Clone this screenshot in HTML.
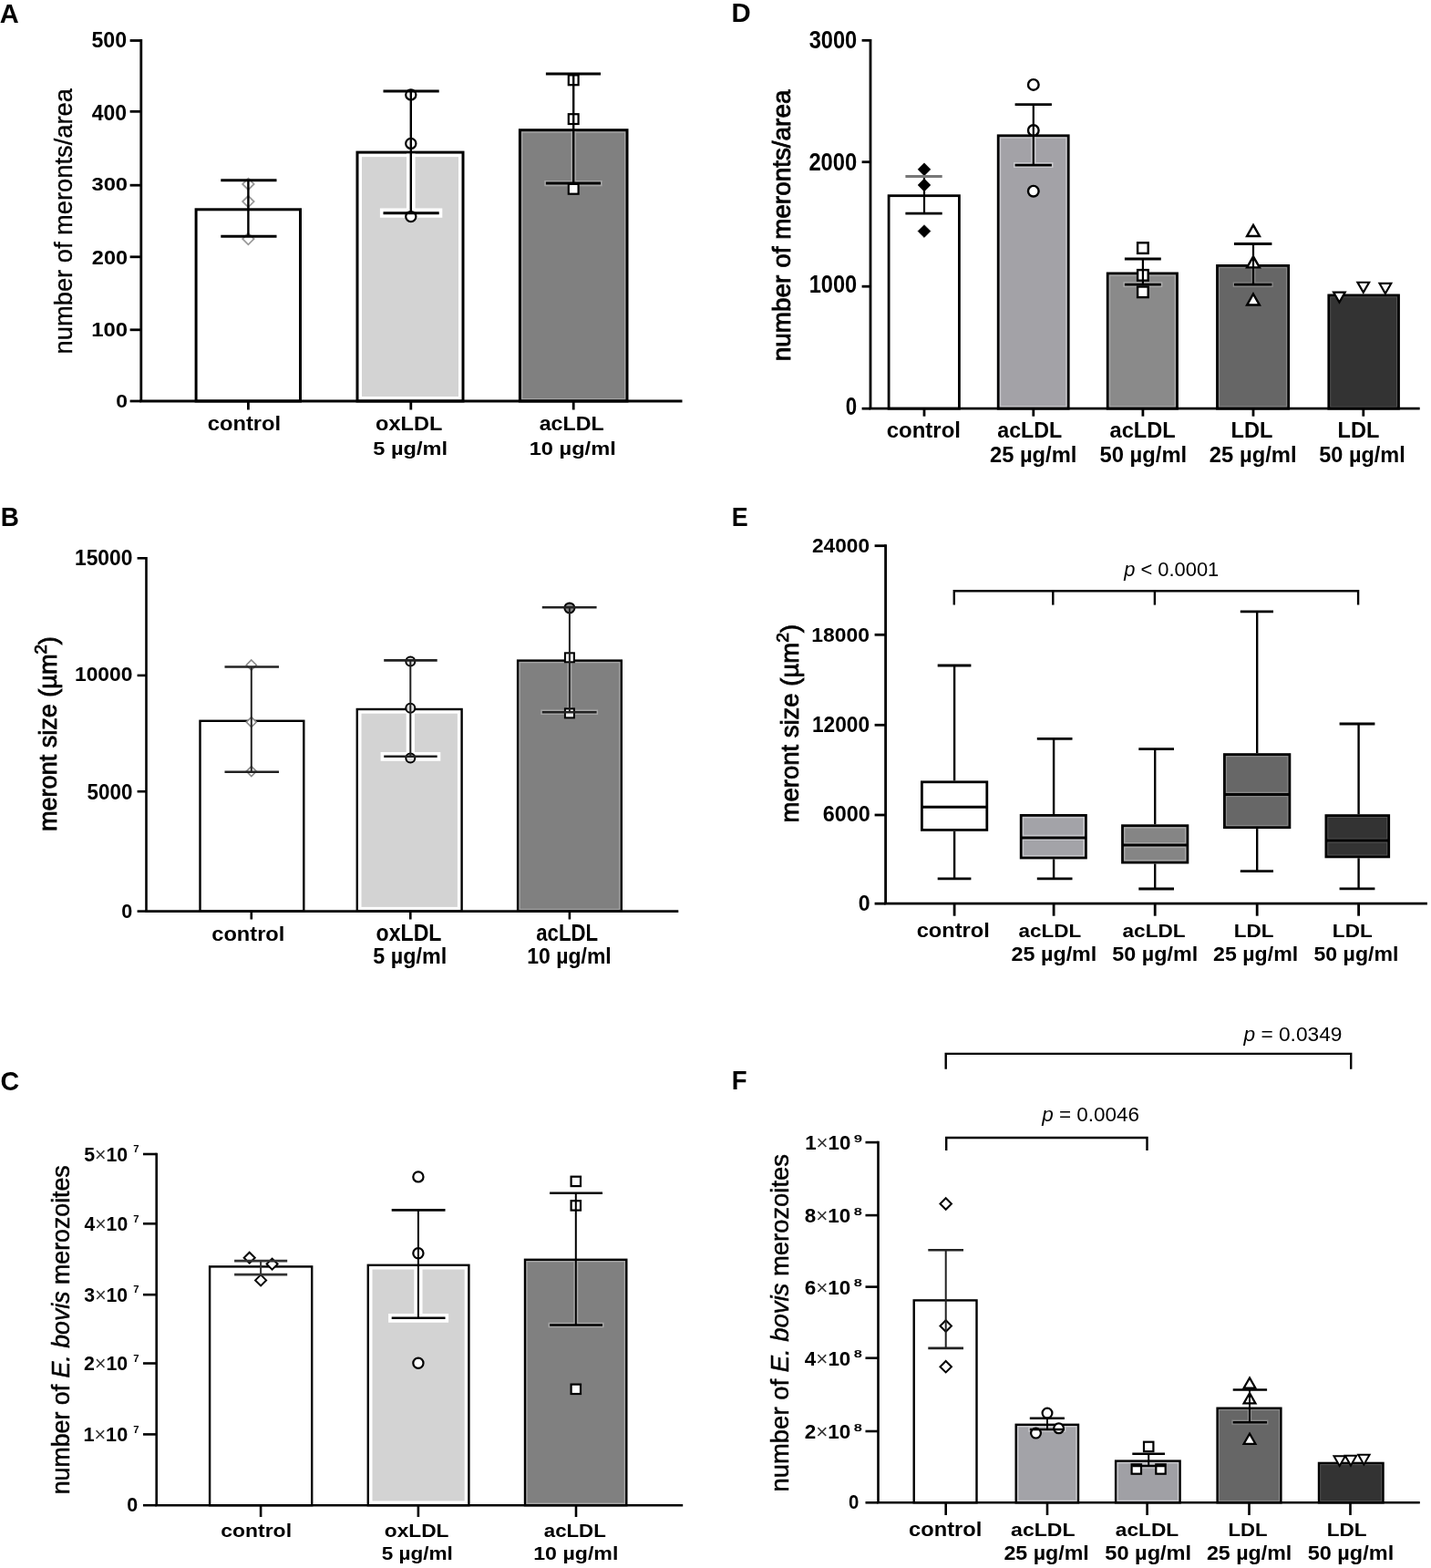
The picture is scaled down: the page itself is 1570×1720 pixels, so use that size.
<!DOCTYPE html>
<html><head><meta charset="utf-8"><title>Figure</title>
<style>html,body{margin:0;padding:0;background:#fff;overflow:hidden}svg{display:block}text{font-family:'Liberation Sans',Arial,sans-serif;fill:#000;font-kerning:none}</style>
</head><body>
<svg width="1570" height="1720" viewBox="0 0 1570 1720">
<rect width="1570" height="1720" fill="#fff"/>
<text x="-0.32" y="24.5" font-size="29.8" font-weight="bold" textLength="20.99" lengthAdjust="spacingAndGlyphs">A</text>
<text x="0.64" y="576.7" font-size="29.36" font-weight="bold" textLength="20.13" lengthAdjust="spacingAndGlyphs">B</text>
<text x="0.53" y="1195.7" font-size="29.5" font-weight="bold" textLength="20.66" lengthAdjust="spacingAndGlyphs">C</text>
<text x="802.54" y="24.1" font-size="29.51" font-weight="bold" textLength="21.2" lengthAdjust="spacingAndGlyphs">D</text>
<text x="802.7" y="576.7" font-size="29.36" font-weight="bold" textLength="17.95" lengthAdjust="spacingAndGlyphs">E</text>
<text x="802.65" y="1194.8" font-size="29.36" font-weight="bold" textLength="16.86" lengthAdjust="spacingAndGlyphs">F</text>
<rect x="215.1" y="229.8" width="114.4" height="210.2" fill="#fff" stroke="#000" stroke-width="3.0"/>
<rect x="392" y="167.1" width="116" height="272.9" fill="#fff" stroke="#000" stroke-width="3.0"/>
<rect x="397" y="172.1" width="106" height="262.9" fill="#d3d3d3"/>
<rect x="570.4" y="142.7" width="117.6" height="297.3" fill="#a5a5a5" stroke="#000" stroke-width="3.0"/>
<rect x="573.4" y="145.7" width="111.6" height="291.3" fill="#808080"/>
<line x1="154.8" y1="43.1" x2="154.8" y2="440" stroke="#000" stroke-width="2.8" stroke-linecap="butt"/>
<line x1="142.6" y1="44.5" x2="154.8" y2="44.5" stroke="#000" stroke-width="2.8" stroke-linecap="butt"/>
<line x1="142.6" y1="122.3" x2="154.8" y2="122.3" stroke="#000" stroke-width="2.8" stroke-linecap="butt"/>
<line x1="142.6" y1="203.2" x2="154.8" y2="203.2" stroke="#000" stroke-width="2.8" stroke-linecap="butt"/>
<line x1="142.6" y1="281.8" x2="154.8" y2="281.8" stroke="#000" stroke-width="2.8" stroke-linecap="butt"/>
<line x1="142.6" y1="361.8" x2="154.8" y2="361.8" stroke="#000" stroke-width="2.8" stroke-linecap="butt"/>
<line x1="142.6" y1="440" x2="154.8" y2="440" stroke="#000" stroke-width="2.8" stroke-linecap="butt"/>
<line x1="153.4" y1="440" x2="748.5" y2="440" stroke="#000" stroke-width="2.8" stroke-linecap="butt"/>
<line x1="272.4" y1="440" x2="272.4" y2="449.5" stroke="#000" stroke-width="2.8" stroke-linecap="butt"/>
<line x1="450.8" y1="440" x2="450.8" y2="449.5" stroke="#000" stroke-width="2.8" stroke-linecap="butt"/>
<line x1="629.2" y1="440" x2="629.2" y2="449.5" stroke="#000" stroke-width="2.8" stroke-linecap="butt"/>
<line x1="450.8" y1="168.6" x2="450.8" y2="233.7" stroke="#fff" stroke-width="9.6" stroke-linecap="butt"/>
<line x1="416.9" y1="233.7" x2="485.3" y2="233.7" stroke="#fff" stroke-width="10.2" stroke-linecap="butt"/>
<line x1="629.2" y1="144.2" x2="629.2" y2="201.1" stroke="#a5a5a5" stroke-width="5.6" stroke-linecap="butt"/>
<line x1="597.3" y1="201.1" x2="660.6" y2="201.1" stroke="#a5a5a5" stroke-width="6.2" stroke-linecap="butt"/>
<polygon points="272.4,195.66 278.64,201.9 272.4,208.14 266.16,201.9" fill="#fff" stroke="#999" stroke-width="1.8"/>
<polygon points="272.4,214.86 278.64,221.1 272.4,227.34 266.16,221.1" fill="#fff" stroke="#999" stroke-width="1.8"/>
<polygon points="272.4,255.86 278.64,262.1 272.4,268.34 266.16,262.1" fill="#fff" stroke="#999" stroke-width="1.8"/>
<circle cx="450.8" cy="103.9" r="5.6" fill="#fff" stroke="#000" stroke-width="2.2"/>
<circle cx="450.8" cy="157.4" r="5.6" fill="#fff" stroke="#000" stroke-width="2.2"/>
<circle cx="450.8" cy="237.6" r="5.6" fill="#fff" stroke="#000" stroke-width="2.2"/>
<rect x="623.8" y="82.4" width="10.8" height="10.8" fill="#fff" stroke="#000" stroke-width="2.2"/>
<rect x="623.8" y="125.2" width="10.8" height="10.8" fill="#fff" stroke="#000" stroke-width="2.2"/>
<rect x="623.8" y="201.9" width="10.8" height="10.8" fill="#fff" stroke="#000" stroke-width="2.2"/>
<text x="100.49" y="52.1" font-size="24.06" font-weight="bold" textLength="38.66" lengthAdjust="spacingAndGlyphs">500</text>
<text x="100.85" y="131.5" font-size="24.49" font-weight="bold" textLength="38.29" lengthAdjust="spacingAndGlyphs">400</text>
<text x="100.46" y="209.4" font-size="20.77" font-weight="bold" textLength="39.62" lengthAdjust="spacingAndGlyphs">300</text>
<text x="100.89" y="289.5" font-size="21.77" font-weight="bold" textLength="39.18" lengthAdjust="spacingAndGlyphs">200</text>
<text x="100.19" y="368.8" font-size="21.63" font-weight="bold" textLength="39.89" lengthAdjust="spacingAndGlyphs">100</text>
<text x="127.29" y="446.7" font-size="20.62" font-weight="bold" textLength="12.75" lengthAdjust="spacingAndGlyphs">0</text>
<text transform="translate(78.6,386.6) rotate(-90)" x="-1.81" y="0" font-size="27.5" font-weight="normal" textLength="291.31" lengthAdjust="spacingAndGlyphs" stroke="#000" stroke-width="0.35">number of meronts/area</text>
<text x="227.77" y="472.4" font-size="22.08" font-weight="bold" textLength="80.41" lengthAdjust="spacingAndGlyphs">control</text>
<text x="412.08" y="472.4" font-size="21.66" font-weight="bold" textLength="73.24" lengthAdjust="spacingAndGlyphs">oxLDL</text>
<text x="409.27" y="498.9" font-size="20.56" font-weight="bold" textLength="81.69" lengthAdjust="spacingAndGlyphs">5 µg/ml</text>
<text x="591.72" y="472.4" font-size="21.66" font-weight="bold" textLength="70.89" lengthAdjust="spacingAndGlyphs">acLDL</text>
<text x="580.71" y="498.9" font-size="20.56" font-weight="bold" textLength="95.06" lengthAdjust="spacingAndGlyphs">10 µg/ml</text>
<rect x="975.1" y="214.7" width="77.3" height="233.5" fill="#fff" stroke="#000" stroke-width="2.8"/>
<rect x="1095.2" y="148.8" width="77" height="299.4" fill="#c8c8cc" stroke="#000" stroke-width="2.8"/>
<rect x="1098.2" y="151.8" width="71" height="293.4" fill="#a3a2a7"/>
<rect x="1215.2" y="299.9" width="76.3" height="148.3" fill="#aaa" stroke="#000" stroke-width="2.8"/>
<rect x="1218.1" y="302.8" width="70.5" height="142.5" fill="#8a8a8a"/>
<rect x="1335.5" y="291.4" width="78.2" height="156.8" fill="#888" stroke="#000" stroke-width="2.8"/>
<rect x="1338.2" y="294.1" width="72.8" height="151.4" fill="#666666"/>
<rect x="1457.8" y="323.9" width="76.7" height="124.3" fill="#555" stroke="#000" stroke-width="2.8"/>
<rect x="1460.2" y="326.3" width="71.9" height="119.5" fill="#333333"/>
<line x1="955" y1="42.9" x2="955" y2="448.2" stroke="#000" stroke-width="2.8" stroke-linecap="butt"/>
<line x1="945.6" y1="44.3" x2="955" y2="44.3" stroke="#000" stroke-width="2.8" stroke-linecap="butt"/>
<line x1="945.6" y1="177.7" x2="955" y2="177.7" stroke="#000" stroke-width="2.8" stroke-linecap="butt"/>
<line x1="945.6" y1="314.2" x2="955" y2="314.2" stroke="#000" stroke-width="2.8" stroke-linecap="butt"/>
<line x1="945.6" y1="448.2" x2="955" y2="448.2" stroke="#000" stroke-width="2.8" stroke-linecap="butt"/>
<line x1="953.6" y1="448.2" x2="1557.7" y2="448.2" stroke="#000" stroke-width="2.8" stroke-linecap="butt"/>
<line x1="1014" y1="448.2" x2="1014" y2="456.7" stroke="#000" stroke-width="2.8" stroke-linecap="butt"/>
<line x1="1133.8" y1="448.2" x2="1133.8" y2="456.7" stroke="#000" stroke-width="2.8" stroke-linecap="butt"/>
<line x1="1253.9" y1="448.2" x2="1253.9" y2="456.7" stroke="#000" stroke-width="2.8" stroke-linecap="butt"/>
<line x1="1375" y1="448.2" x2="1375" y2="456.7" stroke="#000" stroke-width="2.8" stroke-linecap="butt"/>
<line x1="1495.8" y1="448.2" x2="1495.8" y2="456.7" stroke="#000" stroke-width="2.8" stroke-linecap="butt"/>
<line x1="1133.8" y1="150.4" x2="1133.8" y2="181.1" stroke="#c8c8cc" stroke-width="5.4" stroke-linecap="butt"/>
<line x1="1112" y1="181.1" x2="1155.5" y2="181.1" stroke="#c8c8cc" stroke-width="6.0" stroke-linecap="butt"/>
<line x1="1253.9" y1="301.5" x2="1253.9" y2="312.2" stroke="#aaa" stroke-width="5.2" stroke-linecap="butt"/>
<line x1="1232.4" y1="312.2" x2="1275.3" y2="312.2" stroke="#aaa" stroke-width="5.8" stroke-linecap="butt"/>
<line x1="1375" y1="293" x2="1375" y2="312.2" stroke="#888" stroke-width="4.800000000000001" stroke-linecap="butt"/>
<line x1="1352.7" y1="312.2" x2="1396.7" y2="312.2" stroke="#888" stroke-width="5.4" stroke-linecap="butt"/>
<polygon points="1014,178.84 1020.96,185.8 1014,192.76 1007.04,185.8" fill="#000" stroke="#000" stroke-width="0.5"/>
<polygon points="1014,196.04 1020.96,203 1014,209.96 1007.04,203" fill="#000" stroke="#000" stroke-width="0.5"/>
<polygon points="1014,246.64 1020.96,253.6 1014,260.56 1007.04,253.6" fill="#000" stroke="#000" stroke-width="0.5"/>
<circle cx="1133.8" cy="92.9" r="5.8" fill="#fff" stroke="#000" stroke-width="2.4"/>
<circle cx="1133.8" cy="143" r="5.8" fill="#fff" stroke="#000" stroke-width="2.4"/>
<circle cx="1133.8" cy="209.7" r="5.8" fill="#fff" stroke="#000" stroke-width="2.4"/>
<rect x="1248.1" y="266.3" width="11.6" height="11.6" fill="#fff" stroke="#000" stroke-width="2.4"/>
<rect x="1248.1" y="296.1" width="11.6" height="11.6" fill="#fff" stroke="#000" stroke-width="2.4"/>
<rect x="1248.1" y="314.5" width="11.6" height="11.6" fill="#fff" stroke="#000" stroke-width="2.4"/>
<polygon points="1375,246.9 1381.9,258.98 1368.1,258.98" fill="#fff" stroke="#000" stroke-width="2.4"/>
<polygon points="1375,281.3 1381.9,293.38 1368.1,293.38" fill="#fff" stroke="#000" stroke-width="2.4"/>
<polygon points="1375,322.5 1381.9,334.57 1368.1,334.57" fill="#fff" stroke="#000" stroke-width="2.4"/>
<polygon points="1469.4,331.62 1475.73,320.56 1463.08,320.56" fill="#fff" stroke="#000" stroke-width="2.2"/>
<polygon points="1495.8,320.82 1502.12,309.76 1489.47,309.76" fill="#fff" stroke="#000" stroke-width="2.2"/>
<polygon points="1519.9,322.02 1526.23,310.96 1513.58,310.96" fill="#fff" stroke="#000" stroke-width="2.2"/>
<text x="887.66" y="52.8" font-size="27.07" font-weight="bold" textLength="52.61" lengthAdjust="spacingAndGlyphs">3000</text>
<text x="887.38" y="186.7" font-size="27.78" font-weight="bold" textLength="52.9" lengthAdjust="spacingAndGlyphs">2000</text>
<text x="887.71" y="321.2" font-size="27.07" font-weight="bold" textLength="52.56" lengthAdjust="spacingAndGlyphs">1000</text>
<text x="927.82" y="454.6" font-size="27.07" font-weight="bold" textLength="12.4" lengthAdjust="spacingAndGlyphs">0</text>
<text transform="translate(866.7,394.3) rotate(-90)" x="-1.85" y="0" font-size="28.5" font-weight="normal" textLength="297.55" lengthAdjust="spacingAndGlyphs" stroke="#000" stroke-width="0.9">number of meronts/area</text>
<text x="972.66" y="479.8" font-size="23.87" font-weight="bold" textLength="81.34" lengthAdjust="spacingAndGlyphs">control</text>
<text x="1094.22" y="479.6" font-size="23.11" font-weight="bold" textLength="71" lengthAdjust="spacingAndGlyphs">acLDL</text>
<text x="1217.61" y="479.6" font-size="23.11" font-weight="bold" textLength="72.12" lengthAdjust="spacingAndGlyphs">acLDL</text>
<text x="1350.62" y="479.6" font-size="23.11" font-weight="bold" textLength="45.8" lengthAdjust="spacingAndGlyphs">LDL</text>
<text x="1467.52" y="479.6" font-size="23.11" font-weight="bold" textLength="45.8" lengthAdjust="spacingAndGlyphs">LDL</text>
<text x="1085.98" y="506.8" font-size="23.05" font-weight="bold" textLength="95.4" lengthAdjust="spacingAndGlyphs">25 µg/ml</text>
<text x="1206.57" y="506.8" font-size="23.05" font-weight="bold" textLength="95.61" lengthAdjust="spacingAndGlyphs">50 µg/ml</text>
<text x="1326.88" y="506.8" font-size="23.05" font-weight="bold" textLength="95.71" lengthAdjust="spacingAndGlyphs">25 µg/ml</text>
<text x="1447.28" y="506.8" font-size="23.05" font-weight="bold" textLength="94.49" lengthAdjust="spacingAndGlyphs">50 µg/ml</text>
<rect x="219.5" y="790.8" width="113.8" height="208.8" fill="#fff" stroke="#000" stroke-width="2.4"/>
<rect x="391.8" y="778" width="114.8" height="221.6" fill="#fff" stroke="#000" stroke-width="2.4"/>
<rect x="396.5" y="782.7" width="105.4" height="212.2" fill="#d3d3d3"/>
<rect x="568.1" y="724.6" width="113.7" height="275" fill="#a5a5a5" stroke="#000" stroke-width="2.4"/>
<rect x="570.8" y="727.3" width="108.3" height="269.6" fill="#808080"/>
<line x1="160.5" y1="611" x2="160.5" y2="999.6" stroke="#000" stroke-width="2.6" stroke-linecap="butt"/>
<line x1="150.6" y1="612.3" x2="160.5" y2="612.3" stroke="#000" stroke-width="2.6" stroke-linecap="butt"/>
<line x1="150.6" y1="740.9" x2="160.5" y2="740.9" stroke="#000" stroke-width="2.6" stroke-linecap="butt"/>
<line x1="150.6" y1="868.2" x2="160.5" y2="868.2" stroke="#000" stroke-width="2.6" stroke-linecap="butt"/>
<line x1="150.6" y1="999.6" x2="160.5" y2="999.6" stroke="#000" stroke-width="2.6" stroke-linecap="butt"/>
<line x1="159.2" y1="999.6" x2="744.3" y2="999.6" stroke="#000" stroke-width="2.6" stroke-linecap="butt"/>
<line x1="275.8" y1="999.6" x2="275.8" y2="1008.5" stroke="#000" stroke-width="2.6" stroke-linecap="butt"/>
<line x1="450.3" y1="999.6" x2="450.3" y2="1008.5" stroke="#000" stroke-width="2.6" stroke-linecap="butt"/>
<line x1="624.9" y1="999.6" x2="624.9" y2="1008.5" stroke="#000" stroke-width="2.6" stroke-linecap="butt"/>
<line x1="450.3" y1="779.8" x2="450.3" y2="829.8" stroke="#fff" stroke-width="9.2" stroke-linecap="butt"/>
<line x1="417.6" y1="829.8" x2="483.3" y2="829.8" stroke="#fff" stroke-width="9.8" stroke-linecap="butt"/>
<line x1="624.9" y1="726.4" x2="624.9" y2="781.3" stroke="#a5a5a5" stroke-width="5.0" stroke-linecap="butt"/>
<line x1="593.3" y1="781.3" x2="656.1" y2="781.3" stroke="#a5a5a5" stroke-width="5.6" stroke-linecap="butt"/>
<polygon points="275.8,723.98 281.32,729.5 275.8,735.02 270.28,729.5" fill="#fff" stroke="#888" stroke-width="1.6"/>
<polygon points="275.8,786.58 281.32,792.1 275.8,797.62 270.28,792.1" fill="#fff" stroke="#888" stroke-width="1.6"/>
<polygon points="275.8,840.58 281.32,846.1 275.8,851.62 270.28,846.1" fill="#fff" stroke="#888" stroke-width="1.6"/>
<circle cx="450.3" cy="725.4" r="5" fill="#ddd" stroke="#000" stroke-width="2.0"/>
<circle cx="450.3" cy="776.8" r="5" fill="#ddd" stroke="#000" stroke-width="2.0"/>
<circle cx="450.3" cy="831.4" r="5" fill="#ddd" stroke="#000" stroke-width="2.0"/>
<circle cx="624.9" cy="666.9" r="5.5" fill="#888" stroke="#000" stroke-width="2.0"/>
<rect x="619.9" y="716.3" width="10" height="10" fill="#eee" stroke="#000" stroke-width="2.0"/>
<rect x="619.9" y="777.4" width="10" height="10" fill="#eee" stroke="#000" stroke-width="2.0"/>
<text x="81.96" y="619.6" font-size="23.63" font-weight="bold" textLength="63.47" lengthAdjust="spacingAndGlyphs">15000</text>
<text x="81.96" y="747.3" font-size="22.34" font-weight="bold" textLength="63.47" lengthAdjust="spacingAndGlyphs">10000</text>
<text x="95.61" y="877" font-size="24.35" font-weight="bold" textLength="49.81" lengthAdjust="spacingAndGlyphs">5000</text>
<text x="133.34" y="1006.5" font-size="22.91" font-weight="bold" textLength="12.04" lengthAdjust="spacingAndGlyphs">0</text>
<text transform="translate(62.1,910.2) rotate(-90)" x="-1.76" y="0" font-size="27.5" font-weight="normal" textLength="213.8" lengthAdjust="spacingAndGlyphs" stroke="#000" stroke-width="0.8">meront size (µm<tspan font-size="19" dy="-11">2</tspan><tspan dy="11">)</tspan></text>
<text x="232.28" y="1031.9" font-size="21.8" font-weight="bold" textLength="80.1" lengthAdjust="spacingAndGlyphs">control</text>
<text x="412.6" y="1032.1" font-size="24.86" font-weight="bold" textLength="71.81" lengthAdjust="spacingAndGlyphs">oxLDL</text>
<text x="409.28" y="1057.2" font-size="23.18" font-weight="bold" textLength="80.87" lengthAdjust="spacingAndGlyphs">5 µg/ml</text>
<text x="588.25" y="1032.1" font-size="24.86" font-weight="bold" textLength="67.83" lengthAdjust="spacingAndGlyphs">acLDL</text>
<text x="578.25" y="1057.2" font-size="23.18" font-weight="bold" textLength="92.48" lengthAdjust="spacingAndGlyphs">10 µg/ml</text>
<line x1="971.6" y1="597.3" x2="971.6" y2="991.2" stroke="#000" stroke-width="2.8" stroke-linecap="butt"/>
<line x1="959.6" y1="598.7" x2="971.6" y2="598.7" stroke="#000" stroke-width="2.8" stroke-linecap="butt"/>
<line x1="959.6" y1="696.3" x2="971.6" y2="696.3" stroke="#000" stroke-width="2.8" stroke-linecap="butt"/>
<line x1="959.6" y1="795.3" x2="971.6" y2="795.3" stroke="#000" stroke-width="2.8" stroke-linecap="butt"/>
<line x1="959.6" y1="894" x2="971.6" y2="894" stroke="#000" stroke-width="2.8" stroke-linecap="butt"/>
<line x1="959.6" y1="991.2" x2="971.6" y2="991.2" stroke="#000" stroke-width="2.8" stroke-linecap="butt"/>
<line x1="970.2" y1="991.2" x2="1565.9" y2="991.2" stroke="#000" stroke-width="2.8" stroke-linecap="butt"/>
<line x1="1047.1" y1="991.2" x2="1047.1" y2="1004.7" stroke="#000" stroke-width="2.8" stroke-linecap="butt"/>
<line x1="1156.1" y1="991.2" x2="1156.1" y2="1004.7" stroke="#000" stroke-width="2.8" stroke-linecap="butt"/>
<line x1="1267.2" y1="991.2" x2="1267.2" y2="1004.7" stroke="#000" stroke-width="2.8" stroke-linecap="butt"/>
<line x1="1379.2" y1="991.2" x2="1379.2" y2="1004.7" stroke="#000" stroke-width="2.8" stroke-linecap="butt"/>
<line x1="1490.6" y1="991.2" x2="1490.6" y2="1004.7" stroke="#000" stroke-width="2.8" stroke-linecap="butt"/>
<line x1="1047.1" y1="730" x2="1047.1" y2="856.4" stroke="#000" stroke-width="2.4" stroke-linecap="butt"/>
<line x1="1047.1" y1="911.8" x2="1047.1" y2="963.8" stroke="#000" stroke-width="2.4" stroke-linecap="butt"/>
<line x1="1028.7" y1="730" x2="1065.4" y2="730" stroke="#000" stroke-width="2.8" stroke-linecap="butt"/>
<line x1="1028.7" y1="963.8" x2="1065.4" y2="963.8" stroke="#000" stroke-width="2.8" stroke-linecap="butt"/>
<rect x="1011.4" y="857.8" width="71.4" height="52.6" fill="#fff" stroke="#000" stroke-width="2.8"/>
<line x1="1011" y1="885.3" x2="1083.2" y2="885.3" stroke="#000" stroke-width="3.0" stroke-linecap="butt"/>
<line x1="1156.1" y1="810.3" x2="1156.1" y2="893" stroke="#000" stroke-width="2.4" stroke-linecap="butt"/>
<line x1="1156.1" y1="942.4" x2="1156.1" y2="963.8" stroke="#000" stroke-width="2.4" stroke-linecap="butt"/>
<line x1="1137.8" y1="810.3" x2="1176.5" y2="810.3" stroke="#000" stroke-width="2.8" stroke-linecap="butt"/>
<line x1="1137.8" y1="963.8" x2="1176.5" y2="963.8" stroke="#000" stroke-width="2.8" stroke-linecap="butt"/>
<rect x="1120.2" y="894.4" width="71.2" height="46.6" fill="#c8c8cc" stroke="#000" stroke-width="2.8"/>
<rect x="1123.2" y="897.4" width="65.2" height="18.4" fill="#a3a3a8"/>
<rect x="1123.2" y="922" width="65.2" height="16" fill="#a3a3a8"/>
<line x1="1119.8" y1="918.9" x2="1191.8" y2="918.9" stroke="#000" stroke-width="3.0" stroke-linecap="butt"/>
<line x1="1267.2" y1="821.7" x2="1267.2" y2="904.3" stroke="#000" stroke-width="2.4" stroke-linecap="butt"/>
<line x1="1267.2" y1="947.5" x2="1267.2" y2="975" stroke="#000" stroke-width="2.4" stroke-linecap="butt"/>
<line x1="1249.3" y1="821.7" x2="1288" y2="821.7" stroke="#000" stroke-width="2.8" stroke-linecap="butt"/>
<line x1="1249.3" y1="975" x2="1288" y2="975" stroke="#000" stroke-width="2.8" stroke-linecap="butt"/>
<rect x="1231.5" y="905.7" width="71.4" height="40.4" fill="#aaa" stroke="#000" stroke-width="2.8"/>
<rect x="1234.4" y="908.6" width="65.6" height="15.5" fill="#858585"/>
<rect x="1234.4" y="930.1" width="65.6" height="13.1" fill="#858585"/>
<line x1="1231.1" y1="927.1" x2="1303.3" y2="927.1" stroke="#000" stroke-width="3.0" stroke-linecap="butt"/>
<line x1="1379.2" y1="670.9" x2="1379.2" y2="826.2" stroke="#000" stroke-width="2.4" stroke-linecap="butt"/>
<line x1="1379.2" y1="909.1" x2="1379.2" y2="955.6" stroke="#000" stroke-width="2.4" stroke-linecap="butt"/>
<line x1="1360.8" y1="670.9" x2="1397" y2="670.9" stroke="#000" stroke-width="2.8" stroke-linecap="butt"/>
<line x1="1360.8" y1="955.6" x2="1397" y2="955.6" stroke="#000" stroke-width="2.8" stroke-linecap="butt"/>
<rect x="1343.4" y="827.6" width="71.5" height="80.1" fill="#888" stroke="#000" stroke-width="2.8"/>
<rect x="1346.1" y="830.3" width="66.1" height="38.3" fill="#676767"/>
<rect x="1346.1" y="874.2" width="66.1" height="30.8" fill="#676767"/>
<line x1="1343" y1="871.4" x2="1415.3" y2="871.4" stroke="#000" stroke-width="3.0" stroke-linecap="butt"/>
<line x1="1490.6" y1="794" x2="1490.6" y2="893.2" stroke="#000" stroke-width="2.4" stroke-linecap="butt"/>
<line x1="1490.6" y1="941.3" x2="1490.6" y2="974.8" stroke="#000" stroke-width="2.4" stroke-linecap="butt"/>
<line x1="1469.6" y1="794" x2="1508.4" y2="794" stroke="#000" stroke-width="2.8" stroke-linecap="butt"/>
<line x1="1469.6" y1="974.8" x2="1508.4" y2="974.8" stroke="#000" stroke-width="2.8" stroke-linecap="butt"/>
<rect x="1454.9" y="894.6" width="68.8" height="45.3" fill="#555" stroke="#000" stroke-width="2.8"/>
<rect x="1457.3" y="897" width="64" height="22.6" fill="#333333"/>
<rect x="1457.3" y="924.6" width="64" height="12.9" fill="#333333"/>
<line x1="1454.5" y1="922.1" x2="1524.1" y2="922.1" stroke="#000" stroke-width="3.0" stroke-linecap="butt"/>
<polyline points="1046.8,663.6 1046.8,648.3 1490.1,648.3 1490.1,663.6" fill="none" stroke="#000" stroke-width="2.4" stroke-linejoin="miter"/>
<line x1="1155.3" y1="648.3" x2="1155.3" y2="663.6" stroke="#000" stroke-width="2.4" stroke-linecap="butt"/>
<line x1="1266.9" y1="648.3" x2="1266.9" y2="663.6" stroke="#000" stroke-width="2.4" stroke-linecap="butt"/>
<text x="1233.19" y="632.1" font-size="21.34" font-weight="normal" textLength="104.08" lengthAdjust="spacingAndGlyphs" fill="#1a1a1a"><tspan font-style="italic">p</tspan> &lt; 0.0001</text>
<text x="891.01" y="605.7" font-size="21.91" font-weight="bold" textLength="63.02" lengthAdjust="spacingAndGlyphs">24000</text>
<text x="890.36" y="704" font-size="22.91" font-weight="bold" textLength="63.68" lengthAdjust="spacingAndGlyphs">18000</text>
<text x="890.97" y="802.9" font-size="23.77" font-weight="bold" textLength="63.06" lengthAdjust="spacingAndGlyphs">12000</text>
<text x="902.64" y="900.6" font-size="23.92" font-weight="bold" textLength="52.02" lengthAdjust="spacingAndGlyphs">6000</text>
<text x="941.79" y="998.6" font-size="23.77" font-weight="bold" textLength="12.86" lengthAdjust="spacingAndGlyphs">0</text>
<text transform="translate(875.7,900.6) rotate(-90)" x="-1.79" y="0" font-size="27" font-weight="normal" textLength="217.46" lengthAdjust="spacingAndGlyphs" stroke="#000" stroke-width="0.8">meront size (µm<tspan font-size="19" dy="-11">2</tspan><tspan dy="11">)</tspan></text>
<text x="1005.68" y="1027.8" font-size="21.53" font-weight="bold" textLength="80.2" lengthAdjust="spacingAndGlyphs">control</text>
<text x="1117.44" y="1027.9" font-size="20.49" font-weight="bold" textLength="68.75" lengthAdjust="spacingAndGlyphs">acLDL</text>
<text x="1231.54" y="1027.9" font-size="20.49" font-weight="bold" textLength="69.06" lengthAdjust="spacingAndGlyphs">acLDL</text>
<text x="1353.8" y="1027.9" font-size="20.49" font-weight="bold" textLength="43.7" lengthAdjust="spacingAndGlyphs">LDL</text>
<text x="1461.89" y="1027.9" font-size="20.49" font-weight="bold" textLength="43.8" lengthAdjust="spacingAndGlyphs">LDL</text>
<text x="1109.59" y="1054.2" font-size="21.53" font-weight="bold" textLength="93.76" lengthAdjust="spacingAndGlyphs">25 µg/ml</text>
<text x="1220.38" y="1054.2" font-size="21.53" font-weight="bold" textLength="93.87" lengthAdjust="spacingAndGlyphs">50 µg/ml</text>
<text x="1331.1" y="1054.2" font-size="21.53" font-weight="bold" textLength="93.04" lengthAdjust="spacingAndGlyphs">25 µg/ml</text>
<text x="1441.49" y="1054.2" font-size="21.53" font-weight="bold" textLength="92.95" lengthAdjust="spacingAndGlyphs">50 µg/ml</text>
<rect x="230.1" y="1389.4" width="112.1" height="261.8" fill="#fff" stroke="#000" stroke-width="2.4"/>
<rect x="403.8" y="1387.8" width="110.6" height="263.4" fill="#fff" stroke="#000" stroke-width="2.4"/>
<rect x="408.5" y="1392.5" width="101.2" height="254" fill="#d3d3d3"/>
<rect x="576" y="1381.8" width="111.3" height="269.4" fill="#a5a5a5" stroke="#000" stroke-width="2.4"/>
<rect x="578.7" y="1384.5" width="105.9" height="264" fill="#808080"/>
<line x1="171.7" y1="1264.7" x2="171.7" y2="1651.2" stroke="#000" stroke-width="2.6" stroke-linecap="butt"/>
<line x1="157" y1="1266" x2="171.7" y2="1266" stroke="#000" stroke-width="2.6" stroke-linecap="butt"/>
<line x1="157" y1="1342.3" x2="171.7" y2="1342.3" stroke="#000" stroke-width="2.6" stroke-linecap="butt"/>
<line x1="157" y1="1420.2" x2="171.7" y2="1420.2" stroke="#000" stroke-width="2.6" stroke-linecap="butt"/>
<line x1="157" y1="1495.5" x2="171.7" y2="1495.5" stroke="#000" stroke-width="2.6" stroke-linecap="butt"/>
<line x1="157" y1="1573.4" x2="171.7" y2="1573.4" stroke="#000" stroke-width="2.6" stroke-linecap="butt"/>
<line x1="157" y1="1651.2" x2="171.7" y2="1651.2" stroke="#000" stroke-width="2.6" stroke-linecap="butt"/>
<line x1="170.4" y1="1651.2" x2="749.2" y2="1651.2" stroke="#000" stroke-width="2.6" stroke-linecap="butt"/>
<line x1="286.1" y1="1651.2" x2="286.1" y2="1664" stroke="#000" stroke-width="2.6" stroke-linecap="butt"/>
<line x1="458.9" y1="1651.2" x2="458.9" y2="1664" stroke="#000" stroke-width="2.6" stroke-linecap="butt"/>
<line x1="632" y1="1651.2" x2="632" y2="1664" stroke="#000" stroke-width="2.6" stroke-linecap="butt"/>
<line x1="458.9" y1="1389.6" x2="458.9" y2="1445.8" stroke="#fff" stroke-width="9.2" stroke-linecap="butt"/>
<line x1="426.1" y1="1445.8" x2="492.1" y2="1445.8" stroke="#fff" stroke-width="9.8" stroke-linecap="butt"/>
<line x1="631.8" y1="1383.6" x2="631.8" y2="1453.5" stroke="#a5a5a5" stroke-width="5.0" stroke-linecap="butt"/>
<line x1="601.6" y1="1453.5" x2="662.5" y2="1453.5" stroke="#a5a5a5" stroke-width="5.6" stroke-linecap="butt"/>
<polygon points="273.7,1373.7 279.7,1379.7 273.7,1385.7 267.7,1379.7" fill="#fff" stroke="#000" stroke-width="2.0"/>
<polygon points="298.6,1380.6 304.6,1386.6 298.6,1392.6 292.6,1386.6" fill="#fff" stroke="#000" stroke-width="2.0"/>
<polygon points="286.1,1398.4 292.1,1404.4 286.1,1410.4 280.1,1404.4" fill="#fff" stroke="#000" stroke-width="2.0"/>
<circle cx="458.9" cy="1290.9" r="5.6" fill="#fff" stroke="#000" stroke-width="2.2"/>
<circle cx="458.9" cy="1374.8" r="5.6" fill="#fff" stroke="#000" stroke-width="2.2"/>
<circle cx="458.9" cy="1495.2" r="5.6" fill="#fff" stroke="#000" stroke-width="2.2"/>
<rect x="626.6" y="1290.7" width="10.4" height="10.4" fill="#fff" stroke="#000" stroke-width="2.2"/>
<rect x="626.6" y="1317.2" width="10.4" height="10.4" fill="#fff" stroke="#000" stroke-width="2.2"/>
<rect x="626.6" y="1518.6" width="10.4" height="10.4" fill="#fff" stroke="#000" stroke-width="2.2"/>
<text x="92.14" y="1273.6" font-size="22.63" font-weight="bold" textLength="48.03" lengthAdjust="spacingAndGlyphs">5<tspan font-weight="normal" fill="#333">×</tspan>10</text>
<text x="146.21" y="1264.2" font-size="10.47" font-weight="bold" textLength="6.28" lengthAdjust="spacingAndGlyphs" fill="#444">7</text>
<text x="92.48" y="1349.9" font-size="22.63" font-weight="bold" textLength="47.69" lengthAdjust="spacingAndGlyphs">4<tspan font-weight="normal" fill="#333">×</tspan>10</text>
<text x="146.21" y="1340.5" font-size="10.47" font-weight="bold" textLength="6.28" lengthAdjust="spacingAndGlyphs" fill="#444">7</text>
<text x="92.31" y="1427.8" font-size="22.63" font-weight="bold" textLength="47.86" lengthAdjust="spacingAndGlyphs">3<tspan font-weight="normal" fill="#333">×</tspan>10</text>
<text x="146.21" y="1418.4" font-size="10.47" font-weight="bold" textLength="6.28" lengthAdjust="spacingAndGlyphs" fill="#444">7</text>
<text x="92.06" y="1503.1" font-size="22.63" font-weight="bold" textLength="48.12" lengthAdjust="spacingAndGlyphs">2<tspan font-weight="normal" fill="#333">×</tspan>10</text>
<text x="146.21" y="1493.7" font-size="10.47" font-weight="bold" textLength="6.28" lengthAdjust="spacingAndGlyphs" fill="#444">7</text>
<text x="91.44" y="1581" font-size="22.63" font-weight="bold" textLength="48.75" lengthAdjust="spacingAndGlyphs">1<tspan font-weight="normal" fill="#333">×</tspan>10</text>
<text x="146.21" y="1571.6" font-size="10.47" font-weight="bold" textLength="6.28" lengthAdjust="spacingAndGlyphs" fill="#444">7</text>
<text x="139.25" y="1657.5" font-size="21.77" font-weight="bold" textLength="11.93" lengthAdjust="spacingAndGlyphs">0</text>
<text transform="translate(76.4,1637.5) rotate(-90)" x="-1.78" y="0" font-size="27" font-weight="normal" textLength="361.04" lengthAdjust="spacingAndGlyphs" stroke="#000" stroke-width="0.5">number of <tspan font-style="italic">E. bovis</tspan> merozoites</text>
<text x="242.3" y="1686.4" font-size="21.11" font-weight="bold" textLength="77.72" lengthAdjust="spacingAndGlyphs">control</text>
<text x="421.81" y="1686.4" font-size="20.93" font-weight="bold" textLength="70.69" lengthAdjust="spacingAndGlyphs">oxLDL</text>
<text x="418.71" y="1710.8" font-size="20.29" font-weight="bold" textLength="78.19" lengthAdjust="spacingAndGlyphs">5 µg/ml</text>
<text x="596.75" y="1686.4" font-size="20.93" font-weight="bold" textLength="68.04" lengthAdjust="spacingAndGlyphs">acLDL</text>
<text x="585.24" y="1710.8" font-size="20.29" font-weight="bold" textLength="93.1" lengthAdjust="spacingAndGlyphs">10 µg/ml</text>
<rect x="1002.7" y="1426.4" width="68.8" height="221.9" fill="#fff" stroke="#000" stroke-width="2.4"/>
<rect x="1114.7" y="1562.8" width="68.3" height="85.5" fill="#c8c8cc" stroke="#000" stroke-width="2.4"/>
<rect x="1117.5" y="1565.6" width="62.7" height="79.9" fill="#a3a3a8"/>
<rect x="1224.1" y="1602.6" width="70.5" height="45.7" fill="#c8c8cc" stroke="#000" stroke-width="2.4"/>
<rect x="1226.9" y="1605.4" width="64.9" height="40.1" fill="#a0a0a5"/>
<rect x="1335.6" y="1544.7" width="69.8" height="103.6" fill="#888" stroke="#000" stroke-width="2.4"/>
<rect x="1338.1" y="1547.2" width="64.8" height="98.6" fill="#666666"/>
<rect x="1447" y="1604.9" width="70.5" height="43.4" fill="#555" stroke="#000" stroke-width="2.4"/>
<rect x="1449.2" y="1607.1" width="66.1" height="39" fill="#333333"/>
<line x1="963.5" y1="1251.8" x2="963.5" y2="1648.3" stroke="#000" stroke-width="2.6" stroke-linecap="butt"/>
<line x1="949.5" y1="1253.1" x2="963.5" y2="1253.1" stroke="#000" stroke-width="2.6" stroke-linecap="butt"/>
<line x1="949.5" y1="1333.1" x2="963.5" y2="1333.1" stroke="#000" stroke-width="2.6" stroke-linecap="butt"/>
<line x1="949.5" y1="1411.6" x2="963.5" y2="1411.6" stroke="#000" stroke-width="2.6" stroke-linecap="butt"/>
<line x1="949.5" y1="1489.7" x2="963.5" y2="1489.7" stroke="#000" stroke-width="2.6" stroke-linecap="butt"/>
<line x1="949.5" y1="1570" x2="963.5" y2="1570" stroke="#000" stroke-width="2.6" stroke-linecap="butt"/>
<line x1="949.5" y1="1648.3" x2="963.5" y2="1648.3" stroke="#000" stroke-width="2.6" stroke-linecap="butt"/>
<line x1="962.2" y1="1648.3" x2="1557.8" y2="1648.3" stroke="#000" stroke-width="2.6" stroke-linecap="butt"/>
<line x1="1037.7" y1="1648.3" x2="1037.7" y2="1662" stroke="#000" stroke-width="2.6" stroke-linecap="butt"/>
<line x1="1149" y1="1648.3" x2="1149" y2="1662" stroke="#000" stroke-width="2.6" stroke-linecap="butt"/>
<line x1="1258.6" y1="1648.3" x2="1258.6" y2="1662" stroke="#000" stroke-width="2.6" stroke-linecap="butt"/>
<line x1="1370.5" y1="1648.3" x2="1370.5" y2="1662" stroke="#000" stroke-width="2.6" stroke-linecap="butt"/>
<line x1="1481.5" y1="1648.3" x2="1481.5" y2="1662" stroke="#000" stroke-width="2.6" stroke-linecap="butt"/>
<line x1="1149" y1="1564.6" x2="1149" y2="1568" stroke="#c8c8cc" stroke-width="5.0" stroke-linecap="butt"/>
<line x1="1128.3" y1="1568" x2="1169.4" y2="1568" stroke="#c8c8cc" stroke-width="5.6" stroke-linecap="butt"/>
<line x1="1260.2" y1="1604.4" x2="1260.2" y2="1608" stroke="#c8c8cc" stroke-width="5.0" stroke-linecap="butt"/>
<line x1="1240.8" y1="1608" x2="1279.5" y2="1608" stroke="#c8c8cc" stroke-width="5.6" stroke-linecap="butt"/>
<line x1="1371" y1="1546.5" x2="1371" y2="1560.2" stroke="#888" stroke-width="4.6" stroke-linecap="butt"/>
<line x1="1351.4" y1="1560.2" x2="1391.4" y2="1560.2" stroke="#888" stroke-width="5.2" stroke-linecap="butt"/>
<polygon points="1037.7,1314.26 1043.94,1320.5 1037.7,1326.74 1031.46,1320.5" fill="#fff" stroke="#000" stroke-width="2.0"/>
<polygon points="1037.7,1448.26 1043.94,1454.5 1037.7,1460.74 1031.46,1454.5" fill="#fff" stroke="#000" stroke-width="2.0"/>
<polygon points="1037.7,1492.96 1043.94,1499.2 1037.7,1505.44 1031.46,1499.2" fill="#fff" stroke="#000" stroke-width="2.0"/>
<circle cx="1149" cy="1550.1" r="5.4" fill="#fff" stroke="#000" stroke-width="2.2"/>
<circle cx="1136.5" cy="1572.1" r="5.4" fill="#fff" stroke="#000" stroke-width="2.2"/>
<circle cx="1161.6" cy="1566.8" r="5.4" fill="#fff" stroke="#000" stroke-width="2.2"/>
<rect x="1255" y="1581.7" width="10.4" height="10.4" fill="#fff" stroke="#000" stroke-width="2.2"/>
<rect x="1241.6" y="1606.3" width="10.4" height="10.4" fill="#fff" stroke="#000" stroke-width="2.2"/>
<rect x="1268.3" y="1606.3" width="10.4" height="10.4" fill="#fff" stroke="#000" stroke-width="2.2"/>
<polygon points="1371,1511.36 1377.44,1522.63 1364.56,1522.63" fill="#fff" stroke="#000" stroke-width="2.2"/>
<polygon points="1371,1528.16 1377.44,1539.43 1364.56,1539.43" fill="#fff" stroke="#000" stroke-width="2.2"/>
<polygon points="1371,1572.66 1377.44,1583.93 1364.56,1583.93" fill="#fff" stroke="#000" stroke-width="2.2"/>
<polygon points="1469.7,1608.01 1475.91,1597.14 1463.49,1597.14" fill="#fff" stroke="#000" stroke-width="2.0"/>
<polygon points="1482,1607.61 1488.21,1596.74 1475.79,1596.74" fill="#fff" stroke="#000" stroke-width="2.0"/>
<polygon points="1496.4,1606.51 1502.61,1595.64 1490.19,1595.64" fill="#fff" stroke="#000" stroke-width="2.0"/>
<polyline points="1037.7,1172.7 1037.7,1155.9 1482.2,1155.9 1482.2,1172.7" fill="none" stroke="#000" stroke-width="2.4" stroke-linejoin="miter"/>
<polyline points="1038.2,1262.1 1038.2,1248 1258.5,1248 1258.5,1262.1" fill="none" stroke="#000" stroke-width="2.4" stroke-linejoin="miter"/>
<text x="1364.44" y="1142.1" font-size="21.34" font-weight="normal" textLength="108.04" lengthAdjust="spacingAndGlyphs" fill="#1a1a1a"><tspan font-style="italic">p</tspan> = 0.0349</text>
<text x="1143.15" y="1230.3" font-size="22.63" font-weight="normal" textLength="106.84" lengthAdjust="spacingAndGlyphs" fill="#1a1a1a"><tspan font-style="italic">p</tspan> = 0.0046</text>
<text x="883.2" y="1261.3" font-size="22.06" font-weight="bold" textLength="50.11" lengthAdjust="spacingAndGlyphs">1<tspan font-weight="normal" fill="#333">×</tspan>10</text>
<text x="936.82" y="1252.6" font-size="11.6" font-weight="bold" textLength="9.3" lengthAdjust="spacingAndGlyphs" fill="#444">9</text>
<text x="882.79" y="1341.3" font-size="22.06" font-weight="bold" textLength="50.53" lengthAdjust="spacingAndGlyphs">8<tspan font-weight="normal" fill="#333">×</tspan>10</text>
<text x="936.88" y="1332.6" font-size="11.6" font-weight="bold" textLength="9.13" lengthAdjust="spacingAndGlyphs" fill="#444">8</text>
<text x="882.68" y="1419.8" font-size="22.06" font-weight="bold" textLength="50.65" lengthAdjust="spacingAndGlyphs">6<tspan font-weight="normal" fill="#333">×</tspan>10</text>
<text x="936.88" y="1411.1" font-size="11.6" font-weight="bold" textLength="9.13" lengthAdjust="spacingAndGlyphs" fill="#444">8</text>
<text x="882.86" y="1497.9" font-size="22.06" font-weight="bold" textLength="50.46" lengthAdjust="spacingAndGlyphs">4<tspan font-weight="normal" fill="#333">×</tspan>10</text>
<text x="936.88" y="1489.2" font-size="11.6" font-weight="bold" textLength="9.13" lengthAdjust="spacingAndGlyphs" fill="#444">8</text>
<text x="882.72" y="1578.2" font-size="22.06" font-weight="bold" textLength="50.6" lengthAdjust="spacingAndGlyphs">2<tspan font-weight="normal" fill="#333">×</tspan>10</text>
<text x="936.88" y="1569.5" font-size="11.6" font-weight="bold" textLength="9.13" lengthAdjust="spacingAndGlyphs" fill="#444">8</text>
<text x="930.99" y="1655.3" font-size="22.77" font-weight="bold" textLength="11.34" lengthAdjust="spacingAndGlyphs">0</text>
<text transform="translate(865.2,1634.7) rotate(-90)" x="-1.82" y="0" font-size="27.5" font-weight="normal" textLength="370.61" lengthAdjust="spacingAndGlyphs" stroke="#000" stroke-width="0.5">number of <tspan font-style="italic">E. bovis</tspan> merozoites</text>
<text x="997.08" y="1684.6" font-size="21.8" font-weight="bold" textLength="80.2" lengthAdjust="spacingAndGlyphs">control</text>
<text x="1109.13" y="1684.7" font-size="20.79" font-weight="bold" textLength="70.38" lengthAdjust="spacingAndGlyphs">acLDL</text>
<text x="1223.84" y="1684.7" font-size="20.79" font-weight="bold" textLength="69.36" lengthAdjust="spacingAndGlyphs">acLDL</text>
<text x="1347.52" y="1684.7" font-size="20.79" font-weight="bold" textLength="43.06" lengthAdjust="spacingAndGlyphs">LDL</text>
<text x="1455.69" y="1684.7" font-size="20.79" font-weight="bold" textLength="43.8" lengthAdjust="spacingAndGlyphs">LDL</text>
<text x="1101.4" y="1711.2" font-size="21.67" font-weight="bold" textLength="93.35" lengthAdjust="spacingAndGlyphs">25 µg/ml</text>
<text x="1212.27" y="1711.2" font-size="21.67" font-weight="bold" textLength="94.9" lengthAdjust="spacingAndGlyphs">50 µg/ml</text>
<text x="1323.9" y="1711.2" font-size="21.67" font-weight="bold" textLength="93.35" lengthAdjust="spacingAndGlyphs">25 µg/ml</text>
<text x="1434.68" y="1711.2" font-size="21.67" font-weight="bold" textLength="94.49" lengthAdjust="spacingAndGlyphs">50 µg/ml</text>
<line x1="272.4" y1="197.7" x2="272.4" y2="259.3" stroke="#000" stroke-width="2.4" stroke-linecap="butt"/>
<line x1="242.3" y1="197.7" x2="303.5" y2="197.7" stroke="#000" stroke-width="3.0" stroke-linecap="butt"/>
<line x1="242.3" y1="259.3" x2="303.5" y2="259.3" stroke="#000" stroke-width="3.0" stroke-linecap="butt"/>
<line x1="450.8" y1="100" x2="450.8" y2="233.7" stroke="#000" stroke-width="2.4" stroke-linecap="butt"/>
<line x1="420.5" y1="100" x2="481.7" y2="100" stroke="#000" stroke-width="3.0" stroke-linecap="butt"/>
<line x1="420.5" y1="233.7" x2="481.7" y2="233.7" stroke="#000" stroke-width="3.0" stroke-linecap="butt"/>
<line x1="629.2" y1="81" x2="629.2" y2="201.1" stroke="#000" stroke-width="2.4" stroke-linecap="butt"/>
<line x1="598.9" y1="81" x2="659" y2="81" stroke="#000" stroke-width="3.0" stroke-linecap="butt"/>
<line x1="598.9" y1="201.1" x2="659" y2="201.1" stroke="#000" stroke-width="3.0" stroke-linecap="butt"/>
<line x1="1014" y1="193.5" x2="1014" y2="234.1" stroke="#000" stroke-width="2.2" stroke-linecap="butt"/>
<line x1="993.4" y1="193.5" x2="1033.7" y2="193.5" stroke="#777" stroke-width="2.8" stroke-linecap="butt"/>
<line x1="993.4" y1="234.1" x2="1033.7" y2="234.1" stroke="#000" stroke-width="2.8" stroke-linecap="butt"/>
<line x1="1133.8" y1="114.7" x2="1133.8" y2="181.1" stroke="#000" stroke-width="2.2" stroke-linecap="butt"/>
<line x1="1113.6" y1="114.7" x2="1153.9" y2="114.7" stroke="#000" stroke-width="2.8" stroke-linecap="butt"/>
<line x1="1113.6" y1="181.1" x2="1153.9" y2="181.1" stroke="#000" stroke-width="2.8" stroke-linecap="butt"/>
<line x1="1253.9" y1="284" x2="1253.9" y2="312.2" stroke="#000" stroke-width="2.2" stroke-linecap="butt"/>
<line x1="1233.9" y1="284" x2="1273.8" y2="284" stroke="#000" stroke-width="2.8" stroke-linecap="butt"/>
<line x1="1233.9" y1="312.2" x2="1273.8" y2="312.2" stroke="#000" stroke-width="2.8" stroke-linecap="butt"/>
<line x1="1375" y1="267.5" x2="1375" y2="312.2" stroke="#000" stroke-width="2.2" stroke-linecap="butt"/>
<line x1="1354" y1="267.5" x2="1395.4" y2="267.5" stroke="#000" stroke-width="2.8" stroke-linecap="butt"/>
<line x1="1354" y1="312.2" x2="1395.4" y2="312.2" stroke="#000" stroke-width="2.8" stroke-linecap="butt"/>
<line x1="275.8" y1="731.5" x2="275.8" y2="846.7" stroke="#222" stroke-width="2.0" stroke-linecap="butt"/>
<line x1="246.5" y1="731.5" x2="306" y2="731.5" stroke="#222" stroke-width="2.6" stroke-linecap="butt"/>
<line x1="246.5" y1="846.7" x2="306" y2="846.7" stroke="#222" stroke-width="2.6" stroke-linecap="butt"/>
<line x1="450.3" y1="724.4" x2="450.3" y2="829.8" stroke="#222" stroke-width="2.0" stroke-linecap="butt"/>
<line x1="421.2" y1="724.4" x2="479.7" y2="724.4" stroke="#222" stroke-width="2.6" stroke-linecap="butt"/>
<line x1="421.2" y1="829.8" x2="479.7" y2="829.8" stroke="#222" stroke-width="2.6" stroke-linecap="butt"/>
<line x1="624.9" y1="666.2" x2="624.9" y2="781.3" stroke="#222" stroke-width="2.0" stroke-linecap="butt"/>
<line x1="594.8" y1="666.2" x2="654.6" y2="666.2" stroke="#222" stroke-width="2.6" stroke-linecap="butt"/>
<line x1="594.8" y1="781.3" x2="654.6" y2="781.3" stroke="#222" stroke-width="2.6" stroke-linecap="butt"/>
<line x1="286.1" y1="1383.1" x2="286.1" y2="1398.1" stroke="#333" stroke-width="2.0" stroke-linecap="butt"/>
<line x1="257.1" y1="1383.1" x2="315.2" y2="1383.1" stroke="#333" stroke-width="2.6" stroke-linecap="butt"/>
<line x1="257.1" y1="1398.1" x2="315.2" y2="1398.1" stroke="#333" stroke-width="2.6" stroke-linecap="butt"/>
<line x1="458.9" y1="1327.4" x2="458.9" y2="1445.8" stroke="#000" stroke-width="2.0" stroke-linecap="butt"/>
<line x1="429.7" y1="1327.4" x2="488.5" y2="1327.4" stroke="#000" stroke-width="2.6" stroke-linecap="butt"/>
<line x1="429.7" y1="1445.8" x2="488.5" y2="1445.8" stroke="#000" stroke-width="2.6" stroke-linecap="butt"/>
<line x1="631.8" y1="1308.7" x2="631.8" y2="1453.5" stroke="#000" stroke-width="2.0" stroke-linecap="butt"/>
<line x1="603.1" y1="1308.7" x2="661" y2="1308.7" stroke="#000" stroke-width="2.6" stroke-linecap="butt"/>
<line x1="603.1" y1="1453.5" x2="661" y2="1453.5" stroke="#000" stroke-width="2.6" stroke-linecap="butt"/>
<line x1="1037.7" y1="1371.2" x2="1037.7" y2="1478.9" stroke="#222" stroke-width="2.0" stroke-linecap="butt"/>
<line x1="1018.3" y1="1371.2" x2="1057" y2="1371.2" stroke="#222" stroke-width="2.6" stroke-linecap="butt"/>
<line x1="1018.3" y1="1478.9" x2="1057" y2="1478.9" stroke="#222" stroke-width="2.6" stroke-linecap="butt"/>
<line x1="1149" y1="1555.8" x2="1149" y2="1568" stroke="#000" stroke-width="2.0" stroke-linecap="butt"/>
<line x1="1129.8" y1="1555.8" x2="1167.9" y2="1555.8" stroke="#000" stroke-width="2.6" stroke-linecap="butt"/>
<line x1="1129.8" y1="1568" x2="1167.9" y2="1568" stroke="#000" stroke-width="2.6" stroke-linecap="butt"/>
<line x1="1260.2" y1="1594.7" x2="1260.2" y2="1608" stroke="#000" stroke-width="2.0" stroke-linecap="butt"/>
<line x1="1242.3" y1="1594.7" x2="1278" y2="1594.7" stroke="#000" stroke-width="2.6" stroke-linecap="butt"/>
<line x1="1242.3" y1="1608" x2="1278" y2="1608" stroke="#000" stroke-width="2.6" stroke-linecap="butt"/>
<line x1="1371" y1="1524.5" x2="1371" y2="1560.2" stroke="#000" stroke-width="2.0" stroke-linecap="butt"/>
<line x1="1352.7" y1="1524.5" x2="1390.1" y2="1524.5" stroke="#000" stroke-width="2.6" stroke-linecap="butt"/>
<line x1="1352.7" y1="1560.2" x2="1390.1" y2="1560.2" stroke="#000" stroke-width="2.6" stroke-linecap="butt"/>
</svg>
</body></html>
